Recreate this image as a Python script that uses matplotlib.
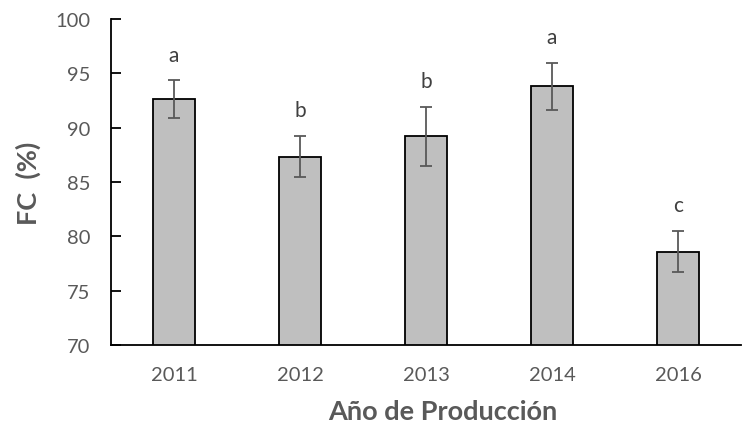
import matplotlib
matplotlib.use('Agg')
import matplotlib.pyplot as plt

# data
years = ['2011', '2012', '2013', '2014', '2016']
fc_values = [92.6, 87.35, 89.2, 93.8, 78.6]
fc_errors = [1.75, 1.9, 2.7, 2.15, 1.9]
letters = ['a', 'b', 'b', 'a', 'c']

plt.rcParams['font.family'] = ['Lato', 'DejaVu Sans']
gray = '#595959'

fig = plt.figure(figsize=(7.42, 4.31), dpi=100)
ax = fig.add_axes([0.1496, 0.197, 0.8490, 0.7566])

x = list(range(len(years)))
ax.bar(x, fc_values, width=0.33, bottom=0, color='#BFBFBF', edgecolor='black',
       linewidth=1.3, zorder=2)
ax.errorbar(x, fc_values, yerr=fc_errors, fmt='none', ecolor=gray,
            elinewidth=1.3, capsize=4.5, capthick=1.3, zorder=3)

for xi, v, e, lab in zip(x, fc_values, fc_errors, letters):
    ax.text(xi, v + e + 1.8, lab, ha='center', va='baseline',
            fontsize=15, color='#404040')

ax.set_xlim(-0.5, len(years) - 0.5)
ax.set_ylim(70, 100)
ax.set_yticks([70, 75, 80, 85, 90, 95, 100])
ax.set_xticks(x)
ax.set_xticklabels(years)

for side in ['top', 'right']:
    ax.spines[side].set_visible(False)
for side in ['left', 'bottom']:
    ax.spines[side].set_linewidth(1.3)
    ax.spines[side].set_color('black')

ax.tick_params(axis='y', direction='in', length=7, width=1.3, colors='black',
               labelcolor=gray, labelsize=14.5, pad=15)
ax.tick_params(axis='x', length=0, labelcolor=gray, labelsize=14.5, pad=15)

ax.set_xlabel('Año de Producción', fontsize=19.5, fontweight='bold', color=gray)
ax.set_ylabel('FC  (%)', fontsize=19.5, fontweight='bold', color=gray, labelpad=10)
ax.xaxis.set_label_coords(0.527, -0.165)

fig.savefig('out.png', dpi=100)
